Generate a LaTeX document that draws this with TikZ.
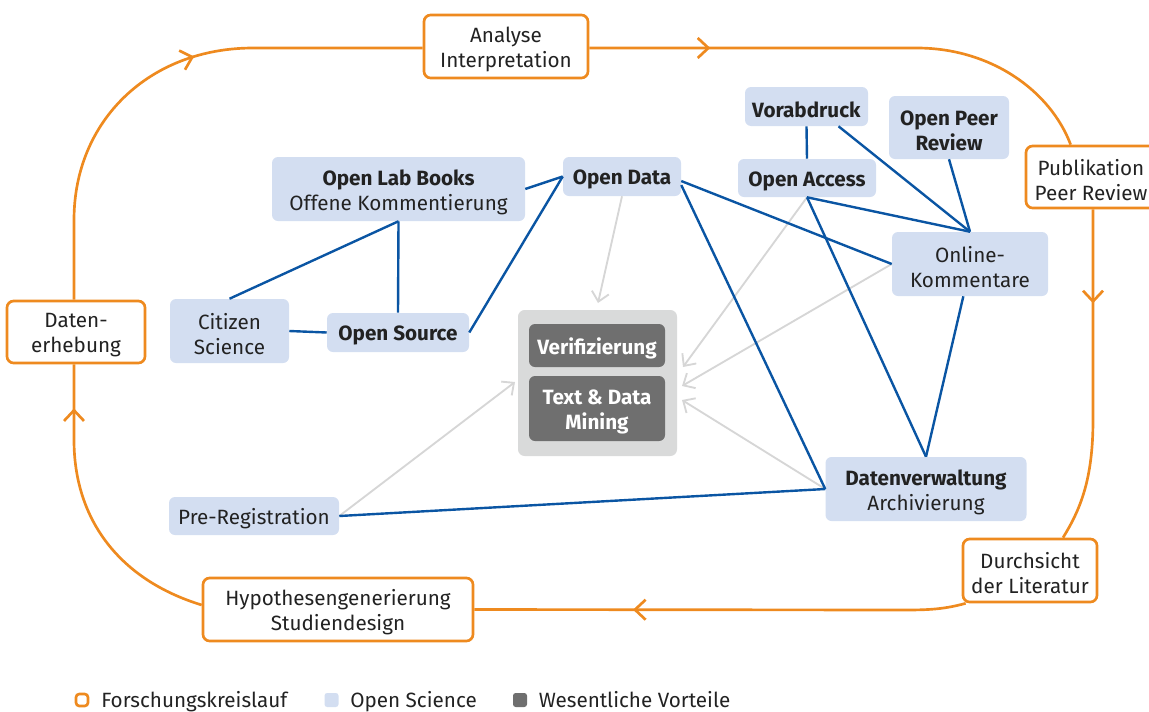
\documentclass[tikz,border=0pt]{standalone}
\usepackage{fontspec}
\setmainfont{Fira Sans}
\usetikzlibrary{arrows.meta,decorations.markings,calc}
\definecolor{orng}{HTML}{EE8A1F}
\definecolor{bfill}{HTML}{D3DEF1}
\definecolor{bline}{HTML}{0A55A3}
\definecolor{gbg}{HTML}{D9DADA}
\definecolor{gdark}{HTML}{6F6F6F}
\definecolor{garrow}{HTML}{D6D6D6}
\definecolor{txt}{HTML}{222222}
\newcommand{\dn}[1]{\raisebox{-2.25pt}[\height][\depth]{#1}}
\begin{document}
\begin{tikzpicture}[x=0.75pt,y=-0.75pt,
  font=\fontsize{15.5}{18.75}\selectfont,
  every node/.style={text=txt},
  obox/.style={draw=orng, line width=2pt, fill=white, rounded corners=5pt, align=center, inner sep=0pt},
  bbox/.style={fill=bfill, rounded corners=4.5pt, align=center, inner sep=0pt},
  dbox/.style={fill=gdark, rounded corners=4.5pt, align=center, inner sep=0pt, text=white, font=\fontsize{15.5}{18.75}\selectfont\bfseries},
  bl/.style={draw=bline, line width=1.8pt},
  ga/.style={draw=garrow, line width=1.4pt, -{Straight Barb[length=7pt,width=13pt]}},
  loopline/.style={draw=orng, line width=2pt},
  mk/.style={postaction={decorate, decoration={markings, mark=at position #1 with {\arrow[orng, line width=2pt]{Straight Barb[length=8pt,width=15pt]}}}}},
  legt/.style={anchor=base west, inner sep=0pt}
]
\useasboundingbox (0,0) rectangle (1149,711);

% research cycle boxes
\node[obox, minimum width=123pt, minimum height=47.25pt] (ana) at (506,46.5) {\dn{Analyse}\\\dn{Interpretation}};
\node[obox, minimum width=97.5pt, minimum height=46.5pt] (pub) at (1091,177) {\dn{Publikation}\\\dn{Peer Review}};
\node[obox, minimum width=100.5pt, minimum height=47.25pt] (dur) at (1030,570.5) {\dn{Durchsicht}\\\dn{der Literatur}};
\node[obox, minimum width=202.5pt, minimum height=47.25pt] (hyp) at (338,609.5) {\dn{Hypothesengenerierung}\\\dn{Studiendesign}};
\node[obox, minimum width=103.5pt, minimum height=46.5pt] (dat) at (76,332) {\dn{Daten-}\\\dn{erhebung}};

% open science boxes
\node[bbox, minimum width=189.75pt, minimum height=48pt] (olb) at (398.5,189) {\dn{\textbf{Open Lab Books}}\\\dn{Offene Kommentierung}};
\node[bbox, minimum width=89.25pt, minimum height=48pt] (cit) at (229.5,331) {\dn{Citizen}\\\dn{Science}};
\node[bbox, minimum width=106.5pt, minimum height=29.25pt] (osrc) at (398,332.5) {\dn{\textbf{Open Source}}};
\node[bbox, minimum width=88.5pt, minimum height=29.25pt] (odata) at (622,176.5) {\dn{\textbf{Open Data}}};
\node[bbox, minimum width=92.25pt, minimum height=29.25pt] (vor) at (806.5,106.5) {\dn{\textbf{Vorabdruck}}};
\node[bbox, minimum width=103.5pt, minimum height=28.5pt] (oacc) at (807,178) {\dn{\textbf{Open Access}}};
\node[bbox, minimum width=90pt, minimum height=47.25pt] (opr) at (949,127.5) {\dn{\textbf{Open Peer}}\\\dn{\textbf{Review}}};
\node[bbox, minimum width=117pt, minimum height=48pt] (onl) at (970,264) {\dn{Online-}\\\dn{Kommentare}};
\node[bbox, minimum width=150.75pt, minimum height=48pt] (dv) at (926,489) {\dn{\textbf{Datenverwaltung}}\\\dn{Archivierung}};
\node[bbox, minimum width=127.5pt, minimum height=28.5pt] (pre) at (254,516) {\dn{Pre-Registration}};

% benefits
\node[fill=gbg, rounded corners=5pt, minimum width=119.25pt, minimum height=109.5pt, inner sep=0pt] (gbox) at (597.5,383) {};
\node[dbox, minimum width=102pt, minimum height=32.25pt] (ver) at (597,345.5) {\dn{Verifizierung}};
\node[dbox, minimum width=102pt, minimum height=48.75pt] (tdm) at (597,408.5) {\dn{Text \& Data}\\\dn{Mining}};

% gray arrows
\coordinate (ga1) at (598,303);
\coordinate (ga2) at (683,367);
\coordinate (ga3) at (682,386);
\coordinate (ga4) at (682,400);
\coordinate (ga5) at (515,382);
\draw[ga] (odata.south) -- (ga1);
\draw[ga] (oacc.south) -- (ga2);
\draw[ga] (onl.west) -- (ga3);
\draw[ga] (dv.west) -- (ga4);
\draw[ga] (pre.east) -- (ga5);

% blue links
\draw[bl] (olb.south) -- (cit.north);
\draw[bl] (olb.south) -- (osrc.north);
\draw[bl] (cit.east) -- (osrc.west);
\draw[bl] (osrc.east) -- (odata.west);
\draw[bl] (olb.east) -- (odata.west);
\draw[bl] ([yshift=-3.4pt]odata.east) -- (onl.west);
\draw[bl] ([yshift=-6.4pt]odata.east) -- (dv.west);
\draw[bl] (vor.south) -- (oacc.north);
\draw[bl] ([xshift=24pt]vor.south) -- (onl.north);
\draw[bl] (opr.south) -- (onl.north);
\draw[bl] (oacc.south) -- (onl.north);
\draw[bl] (oacc.south) -- (dv.north);
\draw[bl] ([xshift=-5pt]onl.south) -- (dv.north);
\draw[bl] (pre.east) -- (dv.west);

% research cycle loop
\draw[loopline, mk=-172pt] ([xshift=-1.5pt]dat.north) -- (74,220) .. controls (74,120) and (150,48) .. (253,48) -- ([yshift=-1.1pt]ana.west);
\draw[loopline, mk=90.75pt] ([yshift=-1.1pt]ana.east) -- (917,48) .. controls (990,48) and (1050,90) .. ([xshift=34.5pt]pub.north west);
\draw[loopline, mk=70.5pt] ([xshift=1.5pt]pub.south) -- (1093,420) .. controls (1093,480) and (1080,510) .. ([xshift=24.75pt]dur.north);
\draw[loopline, mk=-119pt] ([xshift=3pt]dur.south west) .. controls (945,609) and (930,610) .. (905,610) -- (hyp.east);
\draw[loopline, mk=-33pt] ([yshift=3.4pt]hyp.west) .. controls (120,580) and (74,520) .. (74,440) -- ([xshift=-1.5pt]dat.south);

% legend
\node[draw=orng, line width=2pt, rounded corners=2.5pt, minimum size=9pt, inner sep=0pt] (lg1) at (82,700) {};
\node[legt] (lt1) at (101,707) {Forschungskreislauf};
\node[fill=bfill, rounded corners=2pt, minimum size=10.5pt, inner sep=0pt] (lg2) at (331.5,700) {};
\node[legt] (lt2) at (350,707) {Open Science};
\node[fill=gdark, rounded corners=2pt, minimum size=10.5pt, inner sep=0pt] (lg3) at (520,700) {};
\node[legt] (lt3) at (538.5,707) {Wesentliche Vorteile};
\end{tikzpicture}
\end{document}
